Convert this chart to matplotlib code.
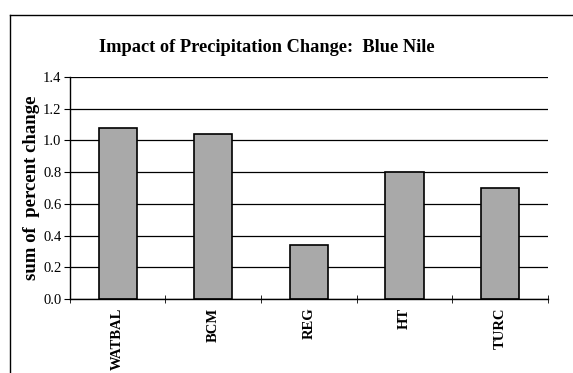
import numpy as np
import matplotlib.pyplot as plt
from matplotlib.lines import Line2D

plt.rcParams['font.family'] = ['Liberation Serif', 'DejaVu Serif']

models = ['WATBAL', 'BCM', 'REG', 'HT', 'TURC']
pct_change = [1.08, 1.04, 0.34, 0.80, 0.70]
y_ticks = [0.0, 0.2, 0.4, 0.6, 0.8, 1.0, 1.2, 1.4]

fig = plt.figure(figsize=(5.73, 3.73), dpi=100)
ax = fig.add_axes([0.122, 0.198, 0.834, 0.596])

x = np.arange(len(models))
ax.set_axisbelow(True)
ax.yaxis.grid(True, color='black', linewidth=0.9)
ax.bar(x, pct_change, width=0.4, color='#a9a9a9', edgecolor='black', linewidth=1.2)

ax.set_xlim(-0.5, len(models) - 0.5)
ax.set_ylim(0, 1.4)
ax.set_yticks(y_ticks)
ax.set_yticklabels(['%.1f' % v for v in y_ticks], fontsize=10.5)
ax.set_xticks(x)
ax.set_xticklabels(models, rotation=90, fontsize=10.5, fontweight='bold')
ax.tick_params(axis='x', length=0, pad=6)
ax.set_xticks(np.arange(-0.5, len(models)), minor=True)
ax.tick_params(axis='x', which='minor', direction='inout', length=6)
ax.tick_params(axis='y', direction='out', length=4, pad=2)

for s in ['top', 'right']:
    ax.spines[s].set_visible(False)
ax.spines['left'].set_linewidth(1.0)
ax.spines['bottom'].set_linewidth(1.0)

ax.set_ylabel('sum of  percent change', fontsize=13.5, fontweight='bold')
ax.yaxis.set_label_coords(-0.063, 0.5)
fig.text(0.466, 0.873, 'Impact of Precipitation Change:  Blue Nile',
         ha='center', va='center', fontsize=13.2, fontweight='bold')

# outer chart frame (top and left edges)
fig.add_artist(Line2D([0.018, 1.0], [0.96, 0.96], color='black', linewidth=1.0))
fig.add_artist(Line2D([0.018, 0.018], [0.0, 0.96], color='black', linewidth=1.0))

fig.savefig('out.png', dpi=100)
